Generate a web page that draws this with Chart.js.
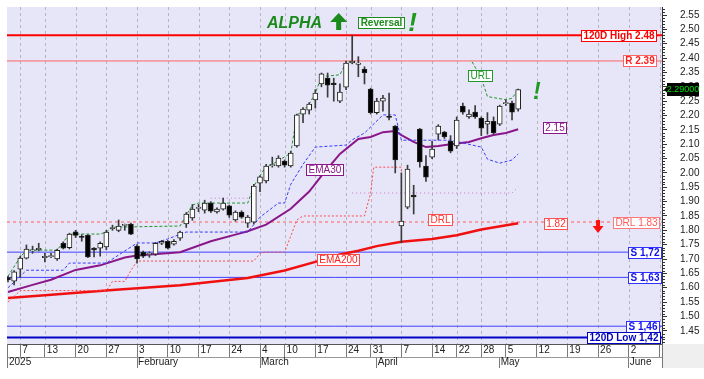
<!DOCTYPE html>
<html><head><meta charset="utf-8">
<script src="https://cdn.jsdelivr.net/npm/chart.js@4/dist/chart.umd.min.js"></script>
<style>html,body{margin:0;padding:0;background:#fff;overflow:hidden}#wrap{width:704px;height:379px}</style>
</head><body><div id="wrap"><canvas id="c" width="704" height="379"></canvas></div>
<script>
// ---------- data (trading days, 2025) ----------
const dates = ['01-02','01-03','01-07','01-08','01-09','01-10','01-13','01-14','01-15','01-16','01-17',
'01-20','01-21','01-22','01-23','01-24','01-27','01-28','01-29','01-30','01-31',
'02-03','02-04','02-05','02-06','02-07','02-10','02-11','02-12','02-13','02-14',
'02-17','02-18','02-19','02-20','02-21','02-24','02-25','02-26','02-27','02-28',
'03-04','03-05','03-06','03-07','03-10','03-11','03-12','03-13','03-14',
'03-17','03-18','03-19','03-20','03-21','03-24','03-25','03-26','03-27',
'03-31','04-01','04-02','04-03','04-04','04-07','04-08','04-09','04-10','04-11',
'04-14','04-15','04-16','04-17','04-22','04-23','04-24','04-25',
'04-28','04-29','04-30','05-02','05-05','05-06','05-07'];
const open = [1.635,1.623,1.665,1.703,1.728,1.733,1.705,1.708,1.700,1.755,
1.740,1.795,1.779,1.783,1.738,1.738,1.742,1.806,1.800,1.817,
1.822,1.745,1.724,1.716,1.717,1.755,1.762,1.752,1.773,1.822,
1.843,1.876,1.870,1.895,1.864,1.874,1.885,1.836,1.864,1.825,
1.828,1.964,1.972,2.025,2.024,2.041,2.024,2.094,2.205,2.219,
2.254,2.310,2.330,2.313,2.250,2.299,2.383,2.378,2.362,2.292,
2.210,2.250,2.197,2.163,1.815,1.881,1.923,2.153,2.024,2.055,
2.135,2.142,2.111,2.094,2.233,2.195,2.212,2.191,2.170,2.180,
2.170,2.241,2.243,2.222];
const high = [1.640,1.660,1.710,1.749,1.745,1.755,1.720,1.720,1.735,1.760,
1.790,1.800,1.785,1.785,1.740,1.760,1.800,1.818,1.836,1.822,
1.825,1.750,1.728,1.725,1.758,1.765,1.765,1.768,1.797,1.862,
1.890,1.890,1.905,1.900,1.878,1.912,1.888,1.868,1.868,1.852,
1.960,1.990,2.030,2.055,2.060,2.045,2.075,2.205,2.228,2.245,
2.290,2.348,2.348,2.330,2.310,2.390,2.480,2.405,2.370,2.295,
2.260,2.270,2.278,2.165,2.000,2.027,1.957,2.155,2.060,2.110,
2.168,2.145,2.130,2.195,2.243,2.220,2.235,2.195,2.210,2.195,
2.236,2.255,2.250,2.292];
const low = [1.620,1.610,1.637,1.700,1.720,1.728,1.690,1.705,1.695,1.735,
1.735,1.775,1.762,1.705,1.707,1.710,1.732,1.800,1.795,1.800,
1.785,1.686,1.705,1.706,1.712,1.750,1.735,1.748,1.765,1.810,
1.835,1.865,1.860,1.862,1.860,1.870,1.845,1.832,1.842,1.810,
1.822,1.935,1.965,2.020,2.020,2.020,2.020,2.090,2.175,2.205,
2.226,2.300,2.264,2.250,2.245,2.290,2.380,2.335,2.310,2.205,
2.205,2.215,2.185,2.000,1.757,1.875,1.857,2.020,1.970,2.050,
2.115,2.120,2.070,2.085,2.205,2.190,2.190,2.130,2.135,2.135,
2.165,2.235,2.185,2.215];
const close = [1.628,1.655,1.703,1.735,1.732,1.737,1.709,1.712,1.730,1.738,
1.787,1.782,1.775,1.707,1.732,1.755,1.794,1.810,1.815,1.821,
1.787,1.700,1.710,1.720,1.755,1.762,1.738,1.762,1.794,1.857,
1.874,1.880,1.895,1.867,1.874,1.895,1.853,1.864,1.846,1.846,
1.954,1.986,2.024,2.029,2.052,2.027,2.069,2.202,2.222,2.240,
2.278,2.345,2.306,2.307,2.282,2.383,2.390,2.383,2.348,2.210,
2.250,2.261,2.193,2.045,1.832,2.013,1.916,2.038,1.985,2.083,
2.163,2.125,2.076,2.184,2.212,2.205,2.195,2.156,2.180,2.139,
2.233,2.245,2.212,2.290];

// indicator lines (trading-day index, value)
const ema30X = [0,4,7,11,15,19,21,28,33,37,39,42,46,49,51,54,57,59,61,63,64,66,68,70,72,75,77,79,81,83];
const ema30Y = [1.585,1.61,1.628,1.662,1.678,1.705,1.712,1.724,1.762,1.785,1.797,1.82,1.875,1.935,1.99,2.066,2.118,2.125,2.142,2.146,2.132,2.108,2.09,2.094,2.1,2.108,2.121,2.132,2.139,2.152];
const ema200X = [0,6,17,28,39,45,50,54,57,60,64,69,73,77,83];
const ema200Y = [1.564,1.574,1.592,1.609,1.634,1.66,1.69,1.716,1.729,1.745,1.76,1.77,1.783,1.803,1.825];
const blueX = [0,2,3,9,10,16,21,24,26,29,39,41,44,45,46,48,50,55,56,58,61,63,64,72,77,78,80,82,83];
const blueY = [1.60,1.64,1.661,1.661,1.686,1.686,1.756,1.756,1.77,1.794,1.794,1.846,1.895,1.895,1.96,2.03,2.09,2.097,2.115,2.139,2.202,2.202,2.114,2.114,2.09,2.048,2.034,2.045,2.066];
const greenX = [0,2,3,8,10,15,16,17,28,29,30,31,39,40,41,42,43,46,47,48,49,50,51,54,55,56,56.5,75.5,77,78,81,82,83];
const greenY = [1.64,1.707,1.731,1.731,1.787,1.787,1.794,1.811,1.815,1.853,1.888,1.895,1.895,1.954,1.99,2.024,2.03,2.069,2.202,2.215,2.24,2.278,2.335,2.342,2.383,2.39,null,2.387,2.33,2.266,2.255,2.26,2.29];
const redStepX = [0,1,2,16,17,19,20,21,40,41,42,45,46,47,48,58,59,59.5,64,64];
const redStepY = [1.55,1.57,1.59,1.59,1.622,1.622,1.66,1.693,1.693,1.72,1.724,1.724,1.78,1.836,1.85,1.85,1.93,2.02,2.02,1.83];
const pinkX = [33,39.5,39.6,56,82,83];
const pinkY = [1.912,1.912,null,1.93,1.93,1.95];

// horizontal levels
const levelVals  = [2.48, 2.39, 1.829, 1.724, 1.636, 1.466, 1.427];
const levelTexts = ['120D High 2.48','R 2.39','DRL 1.83','S 1,72','S 1,63','S 1,46','120D Low 1,42'];

// axis ticks
const yTicks = [1.45,1.50,1.55,1.60,1.65,1.70,1.75,1.80,1.85,1.90,1.95,2.00,2.05,2.10,2.15,2.20,2.25,2.30,2.35,2.40,2.45,2.50,2.55];
const weekTickIdx = [2,6,11,16,21,26,31,36,41,45,50,55,59,64,69,73,77,81,86,91,96,101,106];
const weekTickLbl = ['7','13','20','27','3','10','17','24','4','10','17','24','31','7','14','22','28','5','12','19','26','2',''];
const monthTickIdx = [0,21,41,60,80,101];
const monthTickLbl = ['2025','February','March','April','May','June'];
const lastPriceText = '2.29000';

// ---------- chart ----------
const FONT = "'Liberation Sans', Arial, sans-serif";
const X_MIN = -0.16, X_MAX = 106.4;
const pts = (xs, ys) => xs.map((x, i) => ({x, y: ys[i]}));

const levelStyle = [
  {c:'#ff0000', w:2, dash:[], tc:'#ff0000', bc:'#ff0000', bold:true, off:6},
  {c:'#ff6464', w:1, dash:[], tc:'#ff2020', bc:'#ff6464', bold:true, off:6},
  {c:'#ff5a5a', w:1, dash:[3,3], tc:'#ff5a5a', bc:'#ff7a7a', bold:false, off:3},
  {c:'#4040ff', w:1, dash:[], tc:'#1010f0', bc:'#3030ff', bold:true, off:1},
  {c:'#4040ff', w:1, dash:[], tc:'#1010f0', bc:'#3030ff', bold:true, off:1},
  {c:'#4040ff', w:1, dash:[], tc:'#1010f0', bc:'#3030ff', bold:true, off:3},
  {c:'#0000c8', w:2, dash:[], tc:'#0000c0', bc:'#0000c0', bold:true, off:2},
];

function box(ctx, text, x, yc, o) {
  ctx.font = (o.bold ? 'bold ' : '') + (o.size || 10) + 'px ' + FONT;
  const tw = ctx.measureText(text).width;
  const w = Math.round(tw + 2 * (o.pad || 2));
  const h = o.h || 11;
  let left = o.align === 'right' ? x - w : x;
  left = Math.round(left); const top = Math.round(yc - h / 2);
  ctx.fillStyle = o.bg || '#ffffff';
  ctx.fillRect(left, top, w, h);
  ctx.strokeStyle = o.border; ctx.lineWidth = 1; ctx.setLineDash([]);
  ctx.strokeRect(left + 0.5, top + 0.5, w, h);
  ctx.fillStyle = o.color; ctx.textBaseline = 'middle'; ctx.textAlign = 'center';
  ctx.fillText(text, left + w / 2 + 0.5, top + h / 2 + 1);
}

const deco = {
  id: 'deco',
  beforeDraw(chart) {
    const {ctx, chartArea: a, width, height} = chart;
    const xm = chart.scales.xm;
    ctx.save();
    ctx.fillStyle = '#ffffff'; ctx.fillRect(0, 0, width, height);
    ctx.fillStyle = '#e6e6f8'; ctx.fillRect(a.left, a.top, a.right - a.left, a.bottom - a.top);
    ctx.fillStyle = '#efefef'; ctx.fillRect(a.right + 1, a.bottom, width - a.right - 1, xm.bottom - a.bottom);
    ctx.restore();
  },
  beforeDatasetsDraw(chart) {
    const {ctx, chartArea: a} = chart;
    const x = chart.scales.x;
    ctx.save();
    ctx.strokeStyle = '#b4b4be'; ctx.lineWidth = 1; ctx.setLineDash([3, 3]);
    weekTickIdx.forEach(i => {
      const px = Math.round(x.getPixelForValue(i)) + 0.5;
      ctx.beginPath(); ctx.moveTo(px, a.top); ctx.lineTo(px, a.bottom); ctx.stroke();
    });
    ctx.restore();
  },
  afterDatasetsDraw(chart) {
    const {ctx, chartArea: a} = chart;
    const x = chart.scales.x, y = chart.scales.y;
    const X = i => x.getPixelForValue(i), Y = v => y.getPixelForValue(v);
    ctx.save();
    // level labels
    levelVals.forEach((v, k) => {
      const s = levelStyle[k];
      box(ctx, levelTexts[k], a.right - s.off, Y(v), {align:'right', bold:s.bold, color:s.tc, border:s.bc});
    });
    // indicator labels
    box(ctx, 'EMA30', X(48.5), Y(2.012), {color:'#8a168a', border:'#8a168a'});
    box(ctx, 'EMA200', X(50.3), Y(1.698), {color:'#ff2020', border:'#ff4848'});
    box(ctx, 'DRL', X(68.3), Y(1.837), {color:'#ff3030', border:'#ff5050'});
    box(ctx, '1.82', X(87.2), Y(1.823), {color:'#ff3030', border:'#ff5050'});
    box(ctx, '2.15', X(87.05), Y(2.158), {color:'#8a168a', border:'#8a168a'});
    box(ctx, 'URL', X(74.85), Y(2.341), {color:'#22962a', border:'#22962a'});
    box(ctx, 'Reversal', X(56.95), Y(2.5256), {bold:true, color:'#1c8c1c', border:'#1c8c1c'});
    // ALPHA
    ctx.fillStyle = '#1a8a1a'; ctx.textAlign = 'left'; ctx.textBaseline = 'alphabetic';
    ctx.font = 'italic bold 16px ' + FONT;
    ctx.fillText('ALPHA', X(42.14), Y(2.505));
    // up arrow
    const ax = X(53.8), at = Y(2.557);
    ctx.fillStyle = '#1a8a1a';
    ctx.beginPath();
    ctx.moveTo(ax, at); ctx.lineTo(ax + 8.5, at + 9); ctx.lineTo(ax + 2.5, at + 9); ctx.lineTo(ax + 2.5, at + 17);
    ctx.lineTo(ax - 2.5, at + 17); ctx.lineTo(ax - 2.5, at + 9); ctx.lineTo(ax - 8.5, at + 9); ctx.closePath(); ctx.fill();
    // exclamation marks
    ctx.fillStyle = '#1e9a1e';
    ctx.font = 'italic bold 26px ' + FONT;
    ctx.fillText('!', X(65.1), Y(2.494));
    ctx.font = 'italic bold 23px ' + FONT;
    ctx.fillText('!', X(85.4), Y(2.257));
    // red down arrow
    const dx = X(96), dt = Y(1.836);
    ctx.fillStyle = '#ff1010';
    ctx.beginPath();
    ctx.moveTo(dx - 2, dt); ctx.lineTo(dx + 2, dt); ctx.lineTo(dx + 2, dt + 6); ctx.lineTo(dx + 5.5, dt + 6);
    ctx.lineTo(dx, dt + 13); ctx.lineTo(dx - 5.5, dt + 6); ctx.lineTo(dx - 2, dt + 6); ctx.closePath(); ctx.fill();
    ctx.restore();
  },
  afterDraw(chart) {
    const {ctx, chartArea: a} = chart;
    const y = chart.scales.y, xm = chart.scales.xm;
    ctx.save();
    // minor ticks on right axis
    ctx.strokeStyle = '#333'; ctx.lineWidth = 1;
    for (let k = 141; k <= 257; k++) {
      if (k % 5 === 0) continue;
      const py = Math.round(y.getPixelForValue(k / 100)) + 0.5;
      ctx.beginPath(); ctx.moveTo(a.right, py); ctx.lineTo(a.right + 3, py); ctx.stroke();
    }
    // left / right borders of the date rows
    ctx.strokeStyle = '#777';
    ctx.beginPath(); ctx.moveTo(a.left + 0.5, a.bottom); ctx.lineTo(a.left + 0.5, xm.bottom); ctx.stroke();
    ctx.beginPath(); ctx.moveTo(Math.round(a.right) + 0.5, a.bottom); ctx.lineTo(Math.round(a.right) + 0.5, xm.bottom); ctx.stroke();
    // last price tag
    const py = y.getPixelForValue(close[close.length - 1]);
    ctx.fillStyle = '#000';
    ctx.fillRect(a.right + 5, Math.round(py - 7), 32, 13);
    ctx.beginPath(); ctx.moveTo(a.right + 2, py); ctx.lineTo(a.right + 5, py - 3); ctx.lineTo(a.right + 5, py + 3); ctx.fill();
    ctx.fillStyle = '#00e000'; ctx.font = '9px ' + FONT; ctx.textAlign = 'center'; ctx.textBaseline = 'middle';
    ctx.fillText(lastPriceText, a.right + 21, py);
    ctx.restore();
  }
};

const lineDs = (data, color, width, dash, extra) => Object.assign({
  type: 'line', data, borderColor: color, borderWidth: width, borderDash: dash,
  pointRadius: 0, pointHoverRadius: 0, tension: 0, fill: false, spanGaps: false, order: 10
}, extra || {});

const datasets = [
  ...levelVals.map((v, k) => lineDs([{x: X_MIN, y: v}, {x: X_MAX, y: v}], levelStyle[k].c, levelStyle[k].w, levelStyle[k].dash, {order: 12})),
  lineDs(pts(pinkX, pinkY), '#d070d0', 1, [1, 3]),
  lineDs(pts(redStepX, redStepY), '#ff4a4a', 1, [2, 2]),
  lineDs(pts(blueX, blueY), '#3a3aff', 1, [3, 2]),
  lineDs(pts(greenX, greenY), '#22962a', 1, [3, 2]),
  lineDs(pts(ema200X, ema200Y), '#f01010', 2.5, []),
  lineDs(pts(ema30X, ema30Y), '#8a168a', 2, []),
  { type: 'bar', data: dates.map((d, i) => ({x: i, y: [low[i], high[i]]})),
    backgroundColor: '#3a3a3a', borderWidth: 0, barThickness: 1, grouped: false, order: 2 },
  { type: 'bar', data: dates.map((d, i) => ({x: i, y: [open[i], close[i]]})),
    backgroundColor: c => (c.dataIndex === undefined || close[c.dataIndex] >= open[c.dataIndex]) ? '#ffffff' : '#000000',
    borderColor: '#222', borderWidth: 1, borderSkipped: false, barThickness: 5, grouped: false, order: 1 }
];

new Chart(document.getElementById('c'), {
  type: 'bar',
  data: { datasets },
  options: {
    responsive: false, animation: false, events: [],
    layout: { padding: { left: 7, top: 7, right: 0, bottom: 11 } },
    plugins: { legend: { display: false }, tooltip: { enabled: false } },
    scales: {
      x: {
        type: 'linear', position: 'bottom', weight: 1, min: X_MIN, max: X_MAX, bounds: 'data', offset: false,
        afterBuildTicks: s => { s.ticks = weekTickIdx.map(v => ({value: v})); },
        afterFit: s => { s.height = 13; s.paddingLeft = 0; s.paddingRight = 0; },
        ticks: { autoSkip: false, maxRotation: 0, minRotation: 0, align: 'start', labelOffset: 2, padding: -13,
                 font: { size: 10, family: FONT }, color: '#222', callback: (v, i) => weekTickLbl[i] },
        grid: { drawOnChartArea: false, drawTicks: true, tickLength: 13, tickColor: '#7a7a7a', tickBorderDash: [], offset: false },
        border: { display: true, color: '#555', width: 1 }
      },
      xm: {
        type: 'linear', position: 'bottom', weight: 2, min: X_MIN, max: X_MAX, bounds: 'data', offset: false,
        afterBuildTicks: s => { s.ticks = monthTickIdx.map(v => ({value: v})); },
        afterFit: s => { s.height = 11; s.paddingLeft = 0; s.paddingRight = 0; },
        ticks: { autoSkip: false, maxRotation: 0, minRotation: 0, align: 'start', labelOffset: 1, padding: -12,
                 font: { size: 10, family: FONT }, color: '#222', callback: (v, i) => monthTickLbl[i] },
        grid: { drawOnChartArea: false, drawTicks: true, tickLength: 11, tickColor: '#7a7a7a', tickBorderDash: [], offset: false },
        border: { display: true, color: '#999', width: 1 }
      },
      y: {
        type: 'linear', position: 'right', min: 1.404, max: 2.578, bounds: 'data',
        afterBuildTicks: s => { s.ticks = yTicks.map(v => ({value: v})); },
        afterFit: s => { s.width = 42; s.paddingTop = 0; s.paddingBottom = 0; },
        ticks: { autoSkip: false, padding: 13, font: { size: 10, family: FONT }, color: '#222',
                 callback: v => Number(v).toFixed(2) },
        grid: { drawOnChartArea: false, drawTicks: true, tickLength: 5, tickColor: '#333' },
        border: { display: true, color: '#333', width: 1 }
      }
    }
  },
  plugins: [deco]
});
</script>
</body></html>
